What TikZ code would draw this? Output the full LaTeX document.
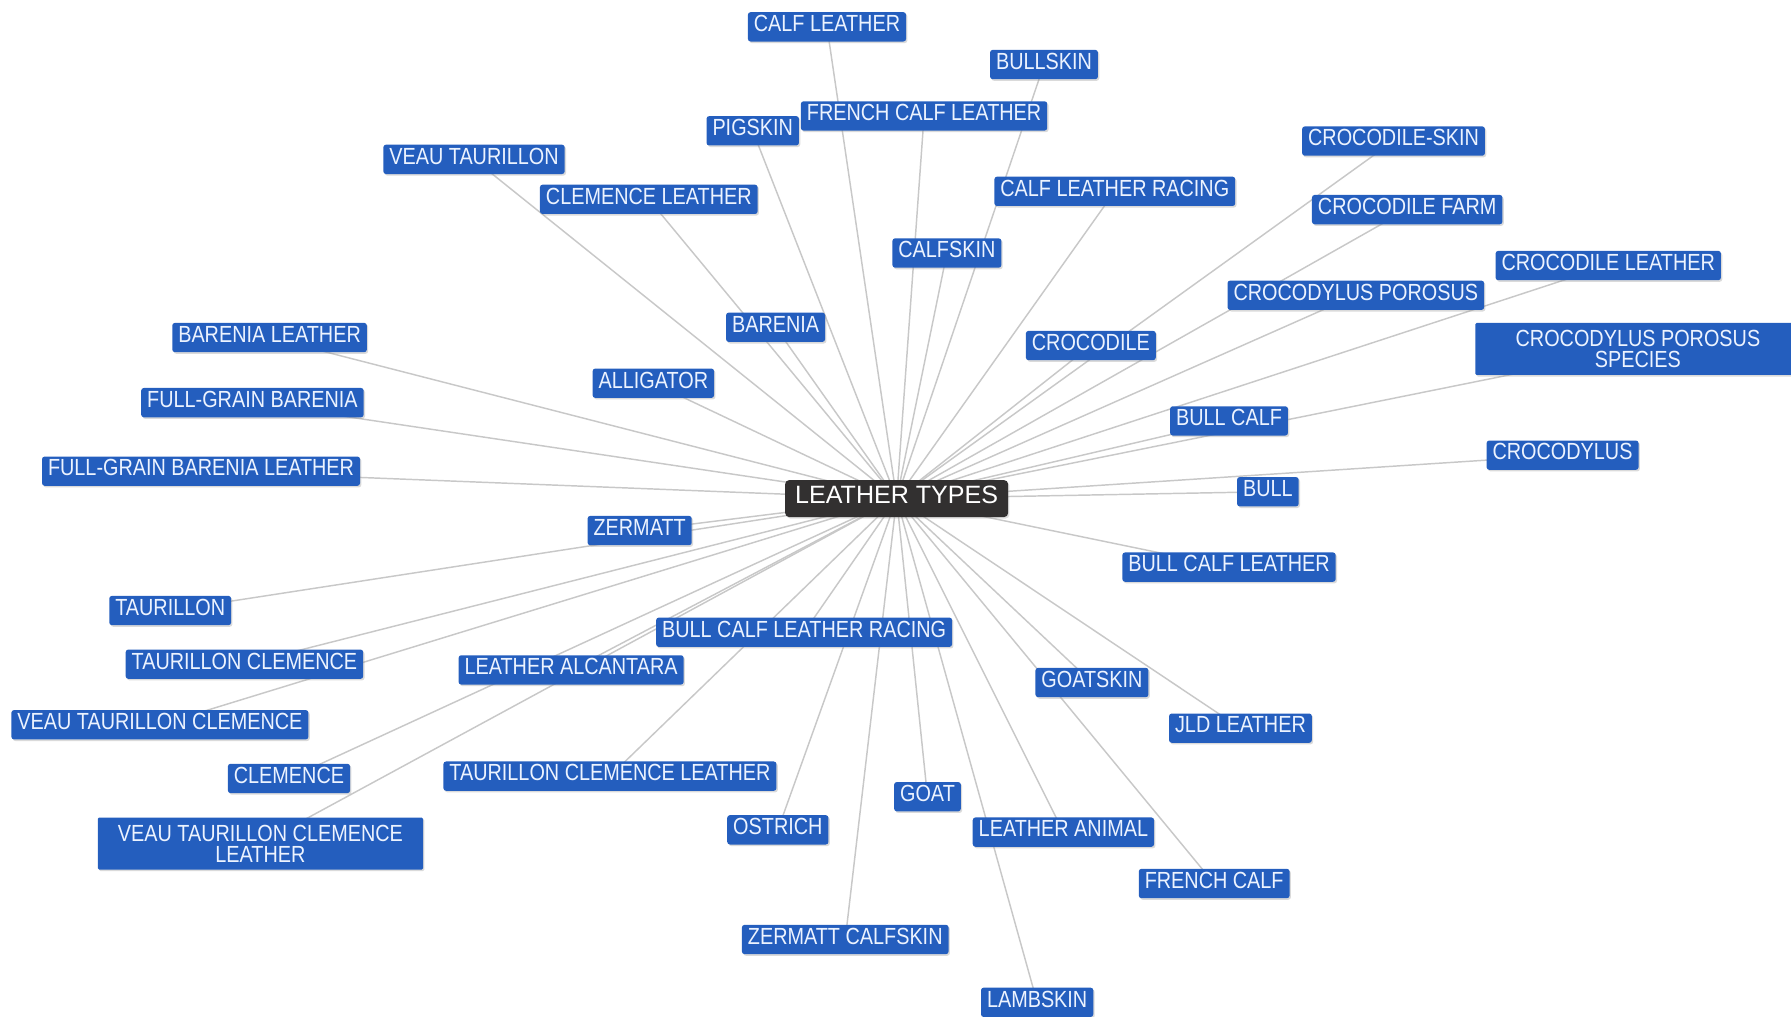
\documentclass[tikz,border=0pt]{standalone}
\usepackage{fontspec}
\setmainfont{Liberation Sans}
\newfontfamily\bluefont{Liberation Sans}[FakeStretch=0.85]
\usetikzlibrary{shadows}
\pgfdeclarelayer{background}
\pgfsetlayers{background,main}
\definecolor{nodeblue}{RGB}{36,94,190}
\definecolor{nodetext}{RGB}{236,243,255}
\definecolor{hubfill}{RGB}{50,48,48}
\definecolor{edgegray}{RGB}{200,200,200}
\definecolor{shadowgray}{RGB}{150,150,150}
\tikzset{
  bn/.style={fill=nodeblue, text=nodetext, rounded corners=2pt,
    font=\bluefont\fontsize{17.5pt}{15.5pt}\selectfont,
    minimum height=22pt, inner xsep=4.5pt, inner ysep=0pt,
    text height=0.72em, text depth=0pt,
    drop shadow={shadow xshift=1pt, shadow yshift=-1.2pt, opacity=0.35, fill=shadowgray}},
  bntwo/.style={bn, minimum width=244pt, minimum height=39pt, align=center,
    text height=, text depth=, rounded corners=1pt},
  hub/.style={fill=hubfill, text=white, rounded corners=3pt,
    font=\fontsize{18.8pt}{20pt}\selectfont,
    minimum height=27.75pt, inner xsep=7.5pt, inner ysep=0pt,
    text height=0.72em, text depth=0pt,
    drop shadow={shadow xshift=1pt, shadow yshift=-1.2pt, opacity=0.3, fill=shadowgray}},
  edge/.style={draw=edgegray, line width=1.1pt}
}
\begin{document}
\begin{tikzpicture}[x=0.8567pt, y=-0.8567pt]
\useasboundingbox (0,-2.5) rectangle (1568,887.5);
\node[hub] (ctr) at (785,434) {LEATHER TYPES};
\node[bn] (n1) at (724,21) {CALF LEATHER};
\node[bn] (n2) at (914,54) {BULLSKIN};
\node[bn] (n3) at (809,99) {FRENCH CALF LEATHER};
\node[bn] (n4) at (659,112) {PIGSKIN};
\node[bn] (n5) at (415,137) {VEAU TAURILLON};
\node[bn] (n6) at (568,172) {CLEMENCE LEATHER};
\node[bn] (n7) at (976,165) {CALF LEATHER RACING};
\node[bn] (n8) at (1220,121) {CROCODILE-SKIN};
\node[bn] (n9) at (1232,181) {CROCODILE FARM};
\node[bn] (n10) at (829,219) {CALFSKIN};
\node[bn] (n11) at (1408,230) {CROCODILE LEATHER};
\node[bn] (n12) at (1187,256) {CROCODYLUS POROSUS};
\node[bntwo] (n13) at (1434,303) {CROCODYLUS POROSUS\\SPECIES};
\node[bn] (n14) at (679,284) {BARENIA};
\node[bn] (n15) at (236,293) {BARENIA LEATHER};
\node[bn] (n16) at (955,300) {CROCODILE};
\node[bn] (n17) at (572,333) {ALLIGATOR};
\node[bn] (n18) at (221,350) {FULL-GRAIN BARENIA};
\node[bn] (n19) at (1076,366) {BULL CALF};
\node[bn] (n20) at (1368,396) {CROCODYLUS};
\node[bn] (n21) at (176,410) {FULL-GRAIN BARENIA LEATHER};
\node[bn] (n22) at (1110,428) {BULL};
\node[bn] (n23) at (560,462) {ZERMATT};
\node[bn] (n24) at (1076,494) {BULL CALF LEATHER};
\node[bn] (n25) at (149,532) {TAURILLON};
\node[bn] (n26) at (704,551) {BULL CALF LEATHER RACING};
\node[bn] (n27) at (214,579) {TAURILLON CLEMENCE};
\node[bn] (n28) at (500,584) {LEATHER ALCANTARA};
\node[bn] (n29) at (956,595) {GOATSKIN};
\node[bn] (n30) at (140,632) {VEAU TAURILLON CLEMENCE};
\node[bn] (n31) at (1086,635) {JLD LEATHER};
\node[bn] (n32) at (253,679) {CLEMENCE};
\node[bn] (n33) at (534,677) {TAURILLON CLEMENCE LEATHER};
\node[bn] (n34) at (812,695) {GOAT};
\node[bntwo] (n35) at (228,736) {VEAU TAURILLON CLEMENCE\\LEATHER};
\node[bn] (n36) at (681,724) {OSTRICH};
\node[bn] (n37) at (931,726) {LEATHER ANIMAL};
\node[bn] (n38) at (1063,771) {FRENCH CALF};
\node[bn] (n39) at (740,820) {ZERMATT CALFSKIN};
\node[bn] (n40) at (908,875) {LAMBSKIN};
\begin{pgfonlayer}{background}
\foreach \n in {n1,n2,n3,n4,n5,n6,n7,n8,n9,n10,n11,n12,n13,n14,n15,n16,n17,n18,n19,n20,n21,n22,n23,n24,n25,n26,n27,n28,n29,n30,n31,n32,n33,n34,n35,n36,n37,n38,n39,n40}
  \draw[edge] (ctr.center) -- (\n.center);
\end{pgfonlayer}
\end{tikzpicture}
\end{document}
